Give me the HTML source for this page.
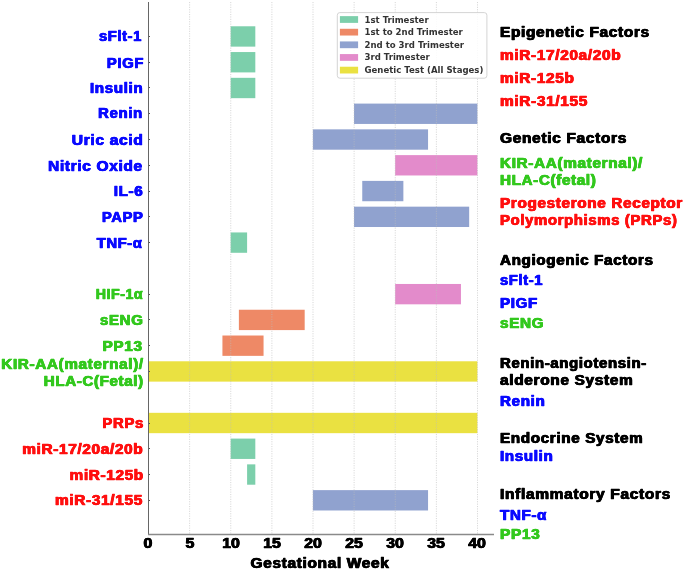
<!DOCTYPE html>
<html><head><meta charset="utf-8"><title>Gestational Week Chart</title>
<style>
html,body{margin:0;padding:0;background:#fff}
#c{position:relative;width:685px;height:570px;overflow:hidden;background:#fff;font-family:"Liberation Sans",sans-serif;font-weight:bold}
#c div{position:absolute}
.yl{right:541.8px;text-align:right;letter-spacing:0.6px;font-size:14px;line-height:17px;white-space:nowrap;-webkit-text-stroke:0.5px;text-shadow:0.4px 0 0 currentColor,-0.4px 0 0 currentColor;transform-origin:100% 50%}
.xt{font-size:14.2px;line-height:14px;width:40px;text-align:center;top:535.6px;color:#000;-webkit-text-stroke:0.5px;text-shadow:0.4px 0 0 currentColor,-0.4px 0 0 currentColor;transform:scaleX(1.12)}
.rt{left:499.6px;font-size:14px;letter-spacing:0.6px;line-height:17px;white-space:nowrap;-webkit-text-stroke:0.5px;text-shadow:0.4px 0 0 currentColor,-0.4px 0 0 currentColor;transform-origin:0 50%}

.lg{font-family:"DejaVu Sans",sans-serif;font-size:8.57px;line-height:10px;color:#333;left:364.5px;white-space:nowrap}
.tk{left:149px;width:1.4px;height:1px;background:#555}
</style></head><body><div id="c">

<svg style="position:absolute;left:0;top:0" width="685" height="570" viewBox="0 0 685 570"><rect x="230.65" y="26.28" width="24.67" height="20.35" fill="#7ccfab"/><rect x="230.65" y="52.05" width="24.67" height="20.35" fill="#7ccfab"/><rect x="230.65" y="77.82" width="24.67" height="20.35" fill="#7ccfab"/><rect x="354.02" y="103.59" width="123.38" height="20.35" fill="#90a2cf"/><rect x="312.90" y="129.35" width="115.15" height="20.35" fill="#90a2cf"/><rect x="395.15" y="155.12" width="82.25" height="20.35" fill="#e38bcb"/><rect x="362.25" y="180.89" width="41.12" height="20.35" fill="#90a2cf"/><rect x="354.02" y="206.66" width="115.15" height="20.35" fill="#90a2cf"/><rect x="230.65" y="232.44" width="16.45" height="20.35" fill="#7ccfab"/><rect x="395.15" y="283.97" width="65.80" height="20.35" fill="#e38bcb"/><rect x="238.88" y="309.74" width="65.80" height="20.35" fill="#ee8966"/><rect x="222.43" y="335.51" width="41.12" height="20.35" fill="#ee8966"/><rect x="148.20" y="361.28" width="329.20" height="20.35" fill="#eae141"/><rect x="148.20" y="412.82" width="329.20" height="20.35" fill="#eae141"/><rect x="230.65" y="438.59" width="24.67" height="20.35" fill="#7ccfab"/><rect x="247.10" y="464.36" width="8.22" height="20.35" fill="#7ccfab"/><rect x="312.90" y="490.13" width="115.15" height="20.35" fill="#90a2cf"/></svg>
<svg style="position:absolute;left:0;top:0" width="685" height="570" viewBox="0 0 685 570"><line x1="189.62" y1="2" x2="189.62" y2="534" stroke="#bdbdbd" stroke-opacity="0.6" stroke-width="1" stroke-dasharray="1.1 1.3"/><line x1="230.75" y1="2" x2="230.75" y2="534" stroke="#bdbdbd" stroke-opacity="0.6" stroke-width="1" stroke-dasharray="1.1 1.3"/><line x1="271.88" y1="2" x2="271.88" y2="534" stroke="#bdbdbd" stroke-opacity="0.6" stroke-width="1" stroke-dasharray="1.1 1.3"/><line x1="313.00" y1="2" x2="313.00" y2="534" stroke="#bdbdbd" stroke-opacity="0.6" stroke-width="1" stroke-dasharray="1.1 1.3"/><line x1="354.12" y1="2" x2="354.12" y2="534" stroke="#bdbdbd" stroke-opacity="0.6" stroke-width="1" stroke-dasharray="1.1 1.3"/><line x1="395.25" y1="2" x2="395.25" y2="534" stroke="#bdbdbd" stroke-opacity="0.6" stroke-width="1" stroke-dasharray="1.1 1.3"/><line x1="436.38" y1="2" x2="436.38" y2="534" stroke="#bdbdbd" stroke-opacity="0.6" stroke-width="1" stroke-dasharray="1.1 1.3"/><line x1="477.50" y1="2" x2="477.50" y2="534" stroke="#bdbdbd" stroke-opacity="0.6" stroke-width="1" stroke-dasharray="1.1 1.3"/></svg>
<svg style="position:absolute;left:0;top:0" width="685" height="570" viewBox="0 0 685 570"><line x1="148.5" y1="2" x2="148.5" y2="535" stroke="#666" stroke-width="1"/><line x1="148" y1="534.6" x2="494" y2="534.6" stroke="#8a8a8a" stroke-width="1.5"/></svg>
<div class="tk" style="top:35.95px"></div>
<div class="yl" style="top:28.00px;right:542.87px;color:#0a0aff;transform:scaleX(1.0490)">sFlt-1</div>
<div class="tk" style="top:61.72px"></div>
<div class="yl" style="top:55.00px;right:541.39px;color:#0a0aff;transform:scaleX(1.0621)">PIGF</div>
<div class="tk" style="top:87.49px"></div>
<div class="yl" style="top:80.00px;right:541.38px;color:#0a0aff;transform:scaleX(1.0836)">Insulin</div>
<div class="tk" style="top:113.26px"></div>
<div class="yl" style="top:105.00px;right:541.64px;color:#0a0aff;transform:scaleX(1.0688)">Renin</div>
<div class="tk" style="top:139.03px"></div>
<div class="yl" style="top:132.00px;right:541.36px;color:#0a0aff;transform:scaleX(1.1117)">Uric acid</div>
<div class="tk" style="top:164.80px"></div>
<div class="yl" style="top:158.00px;right:541.76px;color:#0a0aff;transform:scaleX(1.1039)">Nitric Oxide</div>
<div class="tk" style="top:190.57px"></div>
<div class="yl" style="top:183.00px;right:542.18px;color:#0a0aff;transform:scaleX(1.0795)">IL-6</div>
<div class="tk" style="top:216.34px"></div>
<div class="yl" style="top:209.00px;right:541.74px;color:#0a0aff;transform:scaleX(1.0521)">PAPP</div>
<div class="tk" style="top:242.11px"></div>
<div class="yl" style="top:235.00px;right:542.25px;color:#0a0aff;transform:scaleX(1.0516)">TNF-α</div>
<div class="tk" style="top:293.65px"></div>
<div class="yl" style="top:286.00px;right:542.08px;color:#33c81e;transform:scaleX(1.0031)">HIF-1α</div>
<div class="tk" style="top:319.42px"></div>
<div class="yl" style="top:312.00px;right:541.30px;color:#33c81e;transform:scaleX(1.0771)">sENG</div>
<div class="tk" style="top:345.19px"></div>
<div class="yl" style="top:338.00px;right:541.92px;color:#33c81e;transform:scaleX(1.0966)">PP13</div>
<div class="tk" style="top:370.96px"></div>
<div class="yl" style="top:356.00px;right:541.64px;color:#33c81e;transform:scaleX(1.0897)">KIR-AA(maternal)/</div>
<div class="yl" style="top:373.00px;right:541.51px;color:#33c81e;transform:scaleX(1.0776)">HLA-C(Fetal)</div>
<div class="tk" style="top:422.50px"></div>
<div class="yl" style="top:415.00px;right:541.40px;color:#ff1010;transform:scaleX(1.0686)">PRPs</div>
<div class="tk" style="top:448.27px"></div>
<div class="yl" style="top:441.00px;right:541.52px;color:#ff1010;transform:scaleX(1.0974)">miR-17/20a/20b</div>
<div class="tk" style="top:474.04px"></div>
<div class="yl" style="top:467.00px;right:541.65px;color:#ff1010;transform:scaleX(1.0942)">miR-125b</div>
<div class="tk" style="top:499.81px"></div>
<div class="yl" style="top:492.00px;right:541.75px;color:#ff1010;transform:scaleX(1.1002)">miR-31/155</div>
<div class="xt" style="left:128.40px">0</div>
<div class="xt" style="left:169.53px">5</div>
<div class="xt" style="left:210.65px">10</div>
<div class="xt" style="left:251.77px">15</div>
<div class="xt" style="left:292.90px">20</div>
<div class="xt" style="left:334.02px">25</div>
<div class="xt" style="left:375.15px">30</div>
<div class="xt" style="left:416.27px">35</div>
<div class="xt" style="left:457.40px">40</div>
<div style="left:220px;width:200px;text-align:center;top:555px;font-size:14.2px;line-height:16px;color:#000;-webkit-text-stroke:0.5px;text-shadow:0.4px 0 0 currentColor,-0.4px 0 0 currentColor;letter-spacing:0.6px;transform:scaleX(1.09)">Gestational Week</div>
<svg style="position:absolute;left:0;top:0" width="685" height="570" viewBox="0 0 685 570"><rect x="337.3" y="12.6" width="149.6" height="65.6" rx="2.6" fill="#fff" fill-opacity="0.85" stroke="#cfcfcf" stroke-width="0.9"/><rect x="339.9" y="16.13" width="18.2" height="6.75" fill="#7ccfab"/><rect x="339.9" y="28.78" width="18.2" height="6.75" fill="#ee8966"/><rect x="339.9" y="41.43" width="18.2" height="6.75" fill="#90a2cf"/><rect x="339.9" y="54.08" width="18.2" height="6.75" fill="#e38bcb"/><rect x="339.9" y="66.73" width="18.2" height="6.75" fill="#eae141"/></svg>
<div class="lg" style="top:14.50px"><b>1st Trimester</b></div>
<div class="lg" style="top:27.15px"><b>1st to 2nd Trimester</b></div>
<div class="lg" style="top:39.80px"><b>2nd to 3rd Trimester</b></div>
<div class="lg" style="top:52.45px"><b>3rd Trimester</b></div>
<div class="lg" style="top:65.10px"><b>Genetic Test (All Stages)</b></div>
<div class="rt h" style="top:24.00px;color:#000;transform:scaleX(1.1011)">Epigenetic Factors</div>
<div class="rt" style="top:47.00px;color:#ff1010;transform:scaleX(1.0989)">miR-17/20a/20b</div>
<div class="rt" style="top:70.00px;color:#ff1010;transform:scaleX(1.0988)">miR-125b</div>
<div class="rt" style="top:93.00px;color:#ff1010;transform:scaleX(1.1011)">miR-31/155</div>
<div class="rt h" style="top:130.00px;color:#000;transform:scaleX(1.1062)">Genetic Factors</div>
<div class="rt" style="top:155.00px;color:#33c81e;transform:scaleX(1.0933)">KIR-AA(maternal)/</div>
<div class="rt" style="top:172.00px;color:#33c81e;transform:scaleX(1.0855)">HLA-C(fetal)</div>
<div class="rt" style="top:195.00px;color:#ff1010;transform:scaleX(1.0925)">Progesterone Receptor</div>
<div class="rt" style="top:212.00px;color:#ff1010;transform:scaleX(1.0641)">Polymorphisms (PRPs)</div>
<div class="rt h" style="top:252.00px;color:#000;transform:scaleX(1.0854)">Angiogenic Factors</div>
<div class="rt" style="top:272.00px;color:#0a0aff;transform:scaleX(1.0513)">sFlt-1</div>
<div class="rt" style="top:295.00px;color:#0a0aff;transform:scaleX(1.0810)">PIGF</div>
<div class="rt" style="top:315.00px;color:#33c81e;transform:scaleX(1.0908)">sENG</div>
<div class="rt h" style="top:355.00px;color:#000;transform:scaleX(1.0675)">Renin-angiotensin-</div>
<div class="rt h" style="top:372.00px;color:#000;transform:scaleX(1.1027)">alderone System</div>
<div class="rt" style="top:393.00px;color:#0a0aff;transform:scaleX(1.0839)">Renin</div>
<div class="rt h" style="top:430.00px;color:#000;transform:scaleX(1.0880)">Endocrine System</div>
<div class="rt" style="top:448.00px;color:#0a0aff;transform:scaleX(1.0821)">Insulin</div>
<div class="rt h" style="top:486.00px;color:#000;transform:scaleX(1.1074)">Inflammatory Factors</div>
<div class="rt" style="top:507.00px;color:#0a0aff;transform:scaleX(1.0817)">TNF-α</div>
<div class="rt" style="top:526.00px;color:#33c81e;transform:scaleX(1.1019)">PP13</div>
</div></body></html>
